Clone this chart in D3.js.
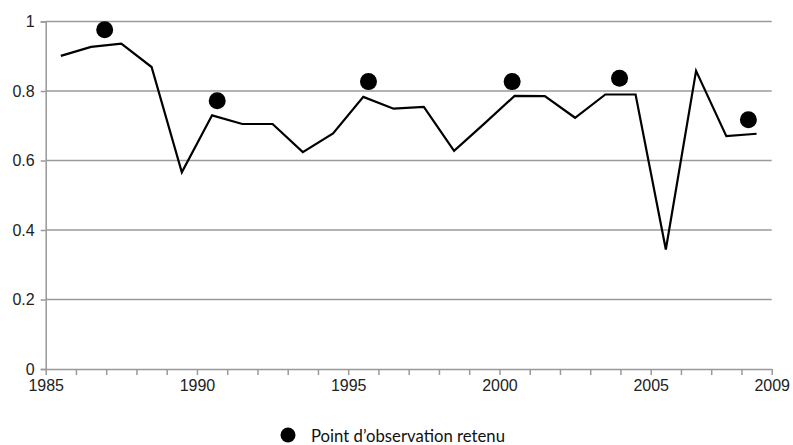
<!DOCTYPE html>
<html lang="fr">
<head>
<meta charset="UTF-8">
<title>Point d'observation retenu</title>
<script src="https://d3js.org/d3.v7.min.js"></script>
<style>
  body { margin: 0; background: #fff; }
  svg { display: block; }
  .legend-text { font-family: Lato, "Open Sans", sans-serif; font-size: 18px; fill: #111; }
</style>
</head>
<body>
<svg id="chart" width="793" height="445"></svg>
<script>
// yearly series (one value per year, drawn mid-year)
const years = d3.range(1985, 2009);
const values = [0.901, 0.927, 0.936, 0.869, 0.566, 0.730, 0.705, 0.705,
                0.624, 0.678, 0.783, 0.749, 0.754, 0.628, 0.706, 0.786,
                0.785, 0.723, 0.790, 0.790, 0.344, 0.858, 0.670, 0.677];

// retained observation points
const obsYears = [1986.95, 1990.67, 1995.67, 2000.42, 2003.97, 2008.23];
const obsValues = [0.976, 0.772, 0.827, 0.827, 0.837, 0.717];

const xLabels = [1985, 1990, 1995, 2000, 2005, 2009];
const yTicks = [0, 0.2, 0.4, 0.6, 0.8, 1];
const legendLabel = "Point d\u2019observation retenu";

const svg = d3.select("#chart");
const x = d3.scaleLinear().domain([1985, 2009]).range([45.7, 771.7]);
const y = d3.scaleLinear().domain([0, 1]).range([369, 21.5]);

function styleAxis(g) {
  g.attr("font-family", "'Liberation Sans', Arial, sans-serif").attr("font-size", 16);
  g.select(".domain").attr("stroke", "#999").attr("stroke-width", 1.5);
  g.selectAll(".tick line").attr("stroke", "#999").attr("stroke-width", 1.5);
  g.selectAll(".tick text").attr("fill", "#222");
}

// y axis labels
svg.append("g")
    .attr("transform", `translate(${x(1985)},0)`)
    .call(d3.axisLeft(y).tickValues(yTicks).tickSize(5).tickPadding(6)
        .tickFormat(d => String(+d.toFixed(1))))
    .call(styleAxis);

// horizontal gridlines
svg.append("g").selectAll("line")
    .data(yTicks.filter(d => d > 0))
    .join("line")
    .attr("x1", x(1985)).attr("x2", x(2009))
    .attr("y1", d => y(d)).attr("y2", d => y(d))
    .attr("stroke", "#9a9a9a").attr("stroke-width", 1.5);

// x axis
svg.append("g")
    .attr("transform", `translate(0,${y(0)})`)
    .call(d3.axisBottom(x).tickValues(d3.range(1985, 2010)).tickSize(6).tickSizeOuter(0).tickPadding(5)
        .tickFormat(d => xLabels.includes(d) ? String(d) : ""))
    .call(styleAxis);

// line
const line = d3.line()
    .x((d, i) => x(years[i] + 0.5))
    .y(d => y(d));
svg.append("path")
    .datum(values)
    .attr("d", line)
    .attr("fill", "none")
    .attr("stroke", "#000")
    .attr("stroke-width", 2.2);

// observation dots
svg.append("g").selectAll("circle")
    .data(obsValues)
    .join("circle")
    .attr("cx", (d, i) => x(obsYears[i]))
    .attr("cy", d => y(d))
    .attr("r", 8.5)
    .attr("fill", "#000");

// legend
const legend = svg.append("g").attr("transform", "translate(288,435)");
legend.append("circle").attr("r", 7.5).attr("fill", "#000");
legend.append("text")
    .attr("class", "legend-text")
    .attr("x", 23).attr("y", 6.5)
    .attr("textLength", 194).attr("lengthAdjust", "spacingAndGlyphs")
    .text(legendLabel);
</script>
</body>
</html>
